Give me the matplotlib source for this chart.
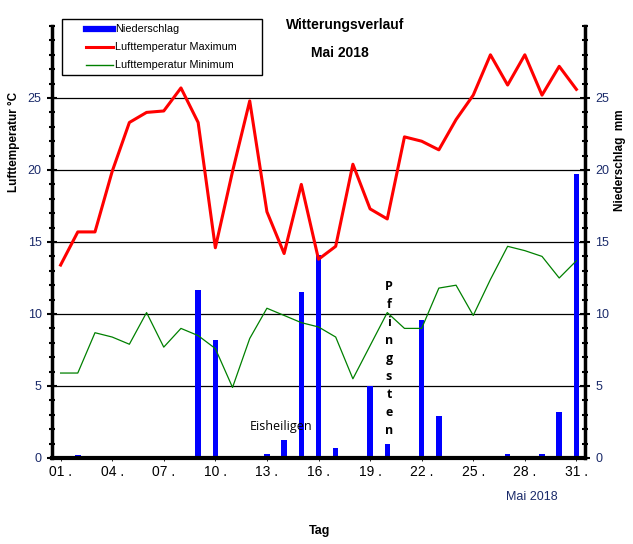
import numpy as np
import matplotlib.pyplot as plt
from matplotlib.lines import Line2D
from matplotlib.patches import Rectangle
from matplotlib.ticker import MultipleLocator, FixedLocator

plt.rcParams['font.family'] = ['Liberation Sans', 'DejaVu Sans']

# Tage im Mai 2018
days = np.arange(1, 32)

# Lufttemperatur Maximum (°C)
t_max = [13.4, 15.7, 15.7, 19.9, 23.3, 24.0, 24.1, 25.7, 23.3, 14.6,
         19.9, 24.8, 17.1, 14.2, 19.0, 13.8, 14.7, 20.4, 17.3, 16.6,
         22.3, 22.0, 21.4, 23.5, 25.2, 28.0, 25.9, 28.0, 25.2, 27.2, 25.6]

# Lufttemperatur Minimum (°C)
t_min = [5.9, 5.9, 8.7, 8.4, 7.9, 10.1, 7.7, 9.0, 8.5, 7.6,
         4.9, 8.3, 10.4, 9.9, 9.4, 9.1, 8.4, 5.5, 7.8, 10.1,
         9.0, 9.0, 11.8, 12.0, 9.9, 12.4, 14.7, 14.4, 14.0, 12.5, 13.7]

# Niederschlag (mm)
precip = [0.0, 0.2, 0.0, 0.0, 0.0, 0.0, 0.0, 0.0, 11.7, 8.2,
          0.0, 0.0, 0.3, 1.25, 11.5, 14.1, 0.7, 0.0, 5.0, 1.0,
          0.0, 9.6, 2.9, 0.0, 0.0, 0.0, 0.3, 0.0, 0.3, 3.2, 19.7]

label_days = [1, 4, 7, 10, 13, 16, 19, 22, 25, 28, 31]
legend_labels = ['Niederschlag', 'Lufttemperatur Maximum', 'Lufttemperatur Minimum']
tick_color = '#1a2a6a'

W, H = 633, 544
fig = plt.figure(figsize=(W / 100, H / 100), dpi=100)
ax2 = fig.add_axes([52 / W, 86 / H, 533 / W, 432 / H])
ax = ax2.twinx()

# Niederschlag als Balken (rechte Achse)
ax2.bar(days, precip, width=0.32, color='#0000ff', zorder=2)

# Temperaturen als Linien (linke Achse)
ax.plot(days, t_max, color='#ff0000', lw=2.2, zorder=3)
ax.plot(days, t_min, color='#008000', lw=0.9, zorder=3)

ax.set_zorder(ax2.get_zorder() + 1)
ax.patch.set_visible(False)

for a in (ax, ax2):
    a.set_xlim(0.5, 31.5)
    a.set_ylim(0, 30)
    a.spines['top'].set_visible(False)

# linke Achse Temperatur, rechte Achse Niederschlag
ax.yaxis.tick_left()
ax.yaxis.set_label_position('left')
ax2.yaxis.tick_right()
ax2.yaxis.set_label_position('right')

for a, side in ((ax, 'left'), (ax2, 'right')):
    a.set_yticks([0, 5, 10, 15, 20, 25])
    a.yaxis.set_minor_locator(MultipleLocator(1))
    a.tick_params(axis='y', which='major', direction='inout', length=7, width=1.5,
                  labelsize=9, labelcolor=tick_color, pad=4)
    a.tick_params(axis='y', which='minor', direction='inout', length=4, width=1.5)
    a.spines[side].set_linewidth(2.5)

ax.spines['right'].set_visible(False)
ax2.spines['left'].set_visible(False)
ax.spines['bottom'].set_linewidth(3)

# Gitterlinien
for v in [5, 10, 15, 20, 25]:
    ax2.axhline(v, color='black', lw=0.9, zorder=1)

# x-Achse
ax.xaxis.set_major_locator(FixedLocator(np.arange(0.5, 32, 1)))
ax.xaxis.set_minor_locator(FixedLocator(label_days))
ax.set_xticklabels([], minor=False)
ax.set_xticklabels([f'{d:02d} .' for d in label_days], minor=True)
ax.tick_params(axis='x', which='major', direction='out', length=5, width=2)
ax.tick_params(axis='x', which='minor', length=0, labelsize=9,
               labelcolor=tick_color, pad=8)
ax2.set_xticks([])

# Achsenbeschriftungen
fig.text(14 / W, 1 - 142 / H, 'Lufttemperatur °C', rotation=90, fontsize=8.5,
         fontweight='bold', ha='center', va='center')
fig.text(620 / W, 1 - 160 / H, 'Niederschlag  mm', rotation=90, fontsize=8.5,
         fontweight='bold', ha='center', va='center')
fig.text(320 / W, 1 - 531 / H, 'Tag', fontsize=9, fontweight='bold',
         ha='center', va='center')
fig.text(532 / W, 1 - 497 / H, 'Mai 2018', fontsize=9, color=tick_color,
         ha='center', va='center')

# Titel
fig.text(345 / W, 1 - 25 / H, 'Witterungsverlauf', fontsize=10,
         fontweight='bold', ha='center', va='center')
fig.text(340 / W, 1 - 53 / H, 'Mai 2018', fontsize=10,
         fontweight='bold', ha='center', va='center')

# Anmerkungen
ax.text(13.8, 2.2, 'Eisheiligen', fontsize=9, ha='center', va='center',
        family=['Open Sans', 'DejaVu Sans'])
for i, ch in enumerate('Pfingsten'):
    ax.text(20.1, 11.9 - i * 1.25, ch, fontsize=9, ha='center', va='center',
            fontweight='bold', family=['Open Sans', 'DejaVu Sans'])

# Legende (von Hand, wie im Original)
ft = fig.transFigure
fig.add_artist(Rectangle((62 / W, 1 - 75 / H), 200 / W, 56 / H, transform=ft,
                         fill=False, edgecolor='black', lw=1))
styles = [('#0000ff', 4.5), ('#ff0000', 2.2), ('#008000', 1)]
for i, (lab, (col, lw)) in enumerate(zip(legend_labels, styles)):
    yy = 1 - (28.5 + i * 18) / H
    fig.add_artist(Line2D([86 / W, 113 / W], [yy, yy], transform=ft,
                          color=col, lw=lw))
    fig.text(115 / W, yy, lab, fontsize=7.8, ha='left', va='center')

fig.savefig('out.png', dpi=100)
